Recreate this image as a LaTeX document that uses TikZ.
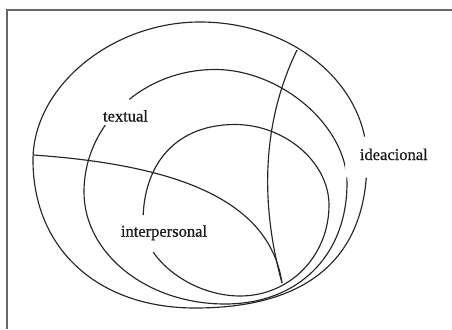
\documentclass[tikz,border=0pt]{standalone}
\usepackage{fontspec}
\setmainfont{Liberation Serif}[FakeBold=0.6]
\begin{document}
\begin{tikzpicture}[x=1pt,y=-1pt,
  curve/.style={draw=black!85,line width=1.15pt},
  lab/.style={anchor=base,inner sep=0pt,font=\fontsize{16.5}{18}\selectfont,text=black!90}]
\useasboundingbox (0,0) rectangle (452,329);
\draw[black!60,line width=1.6pt] (7,329) -- (7,10.3) -- (452,10.3);
\begin{scope}
\clip (0,0) -- (452,0) -- (452,329) -- (0,329) -- cycle
  (345,136.5) -- (345,177.5) -- (385,177.5) -- (385,136.5) -- cycle
  (87,116) -- (123,134) -- (141,115) -- (117,83) -- cycle
  (128,215) -- (128,250) -- (141,263) -- (170,237) -- (165,215) -- cycle;
% outer (ideacional)
\draw[curve] (33,160) .. controls (33,86.9) and (111.5,22) .. (200,22)
  .. controls (292.2,22) and (367,83.8) .. (367,160)
  .. controls (367,257.7) and (308.5,308) .. (195,308)
  .. controls (97.8,308) and (33,248.8) .. (33,160) -- cycle;
% textual
\draw[curve] (84,192) .. controls (84,124.4) and (142.7,69.5) .. (215,69.5)
  .. controls (281,69.5) and (347,126.25) .. (347,183)
  .. controls (347,255.6) and (298.2,304) .. (225,304)
  .. controls (147.2,304) and (84,253.8) .. (84,192) -- cycle;
% interpersonal
\draw[curve] (143,222) .. controls (143,161.5) and (178,124.5) .. (235,124.5)
  .. controls (284.8,124.5) and (329,162.3) .. (329,205)
  .. controls (329,256) and (289.8,296) .. (240,296)
  .. controls (191.5,296) and (143,259) .. (143,222) -- cycle;
\end{scope}
% horizontal-ish line
\draw[curve] (33.5,155) .. controls (184,165.5) and (270,203) .. (282,283);
% vertical-ish line
\draw[curve] (297,50) .. controls (262,122) and (260,203) .. (282,283);
\node[lab] (t) at (125.5,121.5) {textual};
\node[lab] (i) at (393.8,160) {ideacional};
\node[lab] (p) at (164,236.7) {interpersonal};
\end{tikzpicture}
\end{document}
